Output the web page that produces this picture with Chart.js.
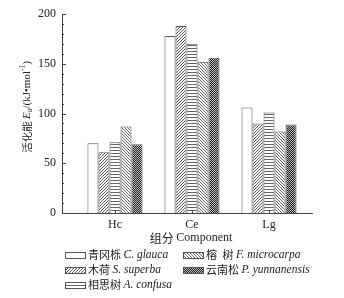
<!DOCTYPE html>
<html>
<head>
<meta charset="utf-8">
<script src="https://cdn.jsdelivr.net/npm/chart.js@4.4.1/dist/chart.umd.min.js"></script>
<style>
  html, body { margin: 0; padding: 0; background: #fff; }
  #wrap { width: 344px; height: 298px; }
</style>
</head>
<body>
<div id="wrap"><canvas id="energyChart" width="344" height="298"></canvas></div>
<script>
// components on the x axis
const components = ['Hc', 'Ce', 'Lg'];
// activation energy, kJ/mol
const glauca = [70, 178, 106];
const superba = [61, 188, 90];
const confusa = [71, 170, 101];
const microcarpa = [87, 152, 82];
const yunnanensis = [69, 156, 89];
// species names for the legend
const cnNames = ['青冈栎', '木荷', '相思树', '榕\u2002树', '云南松'];
const latinNames = ['C. glauca', 'S. superba', 'A. confusa', 'F. microcarpa', 'P. yunnanensis'];
const yMajorTicks = [0, 50, 100, 150, 200];

const serif = '"Liberation Serif", "DejaVu Serif", serif';
const cjk = '"Noto Sans CJK SC", sans-serif';

// small fill patterns for the bars
function makePattern(size, draw) {
    const c = document.createElement('canvas');
    c.width = size; c.height = size;
    const g = c.getContext('2d');
    draw(g);
    return g.createPattern(c, 'repeat');
}
const ctx = document.getElementById('energyChart').getContext('2d');
const patWhite = '#ffffff';
const patSlash = makePattern(3, g => {
    g.fillStyle = '#fff'; g.fillRect(0, 0, 3, 3);
    g.fillStyle = '#555';
    g.fillRect(2, 0, 1, 1); g.fillRect(1, 1, 1, 1); g.fillRect(0, 2, 1, 1);
});
const patHoriz = makePattern(3, g => {
    g.fillStyle = '#fff'; g.fillRect(0, 0, 3, 3);
    g.fillStyle = '#666'; g.fillRect(0, 0, 3, 1);
});
const patBack = makePattern(3, g => {
    g.fillStyle = '#fff'; g.fillRect(0, 0, 3, 3);
    g.fillStyle = '#666';
    g.fillRect(0, 0, 1, 1); g.fillRect(1, 1, 1, 1); g.fillRect(2, 2, 1, 1);
});
const patCheck = makePattern(2, g => {
    g.fillStyle = '#222'; g.fillRect(0, 0, 2, 2);
    g.fillStyle = '#bbb'; g.fillRect(0, 0, 1, 1); g.fillRect(1, 1, 1, 1);
});

const series = [glauca, superba, confusa, microcarpa, yunnanensis];
const fills = [patWhite, patSlash, patHoriz, patBack, patCheck];

const datasets = series.map((vals, i) => ({
    label: cnNames[i] + ' ' + latinNames[i],
    data: vals.map((v, j) => ({ x: j + 1, y: v })),
    backgroundColor: fills[i],
    borderColor: '#555',
    borderWidth: 1,
    borderSkipped: 'bottom',
    barPercentage: 1.0,
    categoryPercentage: 0.715
}));

// draw a run of text pieces with their own fonts
function drawPieces(g, pieces, x, y) {
    let cx = x;
    pieces.forEach(p => {
        g.font = p.font;
        g.fillText(p.text, cx, y + (p.dy || 0));
        cx += g.measureText(p.text).width;
    });
    return cx;
}
function piecesWidth(g, pieces) {
    let w = 0;
    pieces.forEach(p => { g.font = p.font; w += g.measureText(p.text).width; });
    return w;
}

const decorPlugin = {
    id: 'decor',
    afterDraw(chart) {
        const g = chart.ctx;
        const xs = chart.scales.x, ys = chart.scales.y;
        const area = chart.chartArea;
        g.save();
        g.strokeStyle = '#444';
        g.lineWidth = 1;
        // inward tick marks on y axis
        ys.ticks.forEach(t => {
            const py = Math.round(ys.getPixelForValue(t.value)) + 0.5;
            const len = yMajorTicks.includes(t.value) ? 4 : 2;
            g.beginPath(); g.moveTo(area.left, py); g.lineTo(area.left + len, py); g.stroke();
        });
        // inward tick marks on x axis
        xs.ticks.forEach(t => {
            const px = Math.round(xs.getPixelForValue(t.value)) + 0.5;
            g.beginPath(); g.moveTo(px, area.bottom); g.lineTo(px, area.bottom - 3); g.stroke();
        });

        g.fillStyle = '#222';
        g.textBaseline = 'middle';
        // y axis title, rotated
        const yt = [
            { text: '活化能 ', font: '10.5px ' + cjk },
            { text: 'E', font: 'italic 11px ' + serif },
            { text: 'a', font: 'italic 7.5px ' + serif, dy: 3 },
            { text: '/(kJ•mol', font: '11px ' + serif },
            { text: '-1', font: '7.5px ' + serif, dy: -4 },
            { text: ')', font: '11px ' + serif }
        ];
        const ytw = piecesWidth(g, yt);
        g.save();
        g.translate(27, 107);
        g.rotate(-Math.PI / 2);
        g.textAlign = 'left';
        drawPieces(g, yt, -ytw / 2, 0);
        g.restore();

        // x axis title
        const xt = [
            { text: '组分 ', font: '12px ' + cjk },
            { text: 'Component', font: '12px ' + serif }
        ];
        g.textAlign = 'left';
        drawPieces(g, xt, 191 - piecesWidth(g, xt) / 2, 238);

        // legend, two columns filled column first
        const colX = [65, 183];
        const rowY = [255, 270, 285];
        series.forEach((s, i) => {
            const col = i < 3 ? 0 : 1;
            const row = i < 3 ? i : i - 3;
            const x = colX[col], y = rowY[row];
            g.fillStyle = fills[i];
            g.fillRect(x, y - 3, 20, 6);
            g.strokeStyle = '#555';
            g.strokeRect(x + 0.5, y - 2.5, 20, 6);
            g.fillStyle = '#222';
            drawPieces(g, [
                { text: cnNames[i] + ' ', font: '11px ' + cjk },
                { text: latinNames[i], font: 'italic 11.5px ' + serif }
            ], x + 23, y);
        });
        g.restore();
    }
};

new Chart(ctx, {
    type: 'bar',
    data: { datasets: datasets },
    options: {
        responsive: false,
        animation: false,
        layout: { padding: { left: 0, top: 14, right: 32, bottom: 0 } },
        plugins: {
            legend: { display: false },
            tooltip: { enabled: false }
        },
        scales: {
            x: {
                type: 'linear',
                min: 0.312,
                max: 3.558,
                offset: false,
                afterBuildTicks: s => { s.ticks = components.map((c, i) => ({ value: i + 1 })); },
                afterFit: s => { s.height = 85; },
                grid: { display: false, drawTicks: false },
                border: { display: true, color: '#444', width: 1 },
                ticks: {
                    padding: 5,
                    color: '#222',
                    font: { family: serif, size: 12 },
                    callback: v => components[v - 1] || ''
                }
            },
            y: {
                min: 0,
                max: 200,
                afterFit: s => { s.width = 62; },
                grid: { display: false, drawTicks: false },
                border: { display: true, color: '#444', width: 1 },
                ticks: {
                    stepSize: 10,
                    autoSkip: false,
                    padding: 6,
                    color: '#222',
                    font: { family: serif, size: 12 },
                    callback: v => (v % 50 === 0 ? v : '')
                }
            }
        }
    },
    plugins: [decorPlugin]
});
</script>
</body>
</html>
